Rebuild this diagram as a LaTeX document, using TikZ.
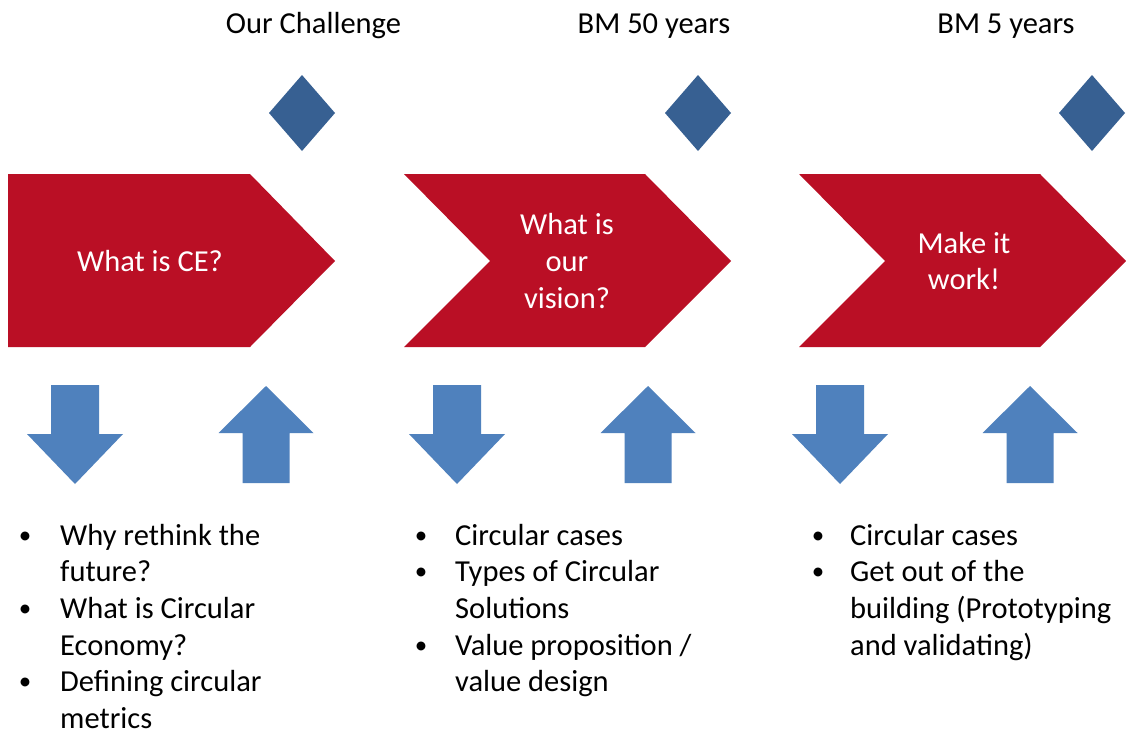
\documentclass[tikz,border=0pt]{standalone}
\usepackage{fontspec}
\setmainfont{Carlito}
\definecolor{cered}{HTML}{BA0F25}
\definecolor{diablue}{HTML}{376092}
\definecolor{arrblue}{HTML}{4F81BD}
\begin{document}
\begin{tikzpicture}[x=1pt,y=-1pt,
  txt/.style={font=\fontsize{30.5}{36.7}\selectfont, inner sep=0pt, align=left},
  wtxt/.style={txt, text=white, align=center},
  ttl/.style={txt, anchor=base},
  item/.style={txt, anchor=base west},
  bul/.style={font=\fontsize{25}{30}\selectfont, inner sep=0pt, anchor=base}]
\useasboundingbox (0,0) rectangle (1126,731);
\fill[white] (0,0) rectangle (1126,731);
% titles
\node[ttl] (t1) at (313.5,33) {Our Challenge};
\node[ttl] (t2) at (654,33) {BM 50 years};
\node[ttl] (t3) at (1006,33) {BM 5 years};
% diamonds
\foreach \cx in {302,698,1092}
  \fill[diablue] (\cx,75) -- (\cx+33,113) -- (\cx,151) -- (\cx-33,113) -- cycle;
% chevrons
\fill[cered] (8,174) -- (250,174) -- (335,261) -- (250,347) -- (8,347) -- cycle;
\fill[cered] (404,174) -- (645,174) -- (731,261) -- (645,347) -- (404,347) -- (490,261) -- cycle;
\fill[cered] (799,174) -- (1040,174) -- (1126,261) -- (1040,347) -- (799,347) -- (885,261) -- cycle;
\node[wtxt] (c1) at (150,261) {What is CE?};
\node[wtxt] (c2) at (567,261) {What is\\our\\vision?};
\node[wtxt] (c3) at (964,261) {Make it\\work!};
% arrows
\foreach \cx in {75,457,840}
  \fill[arrblue] (\cx-24,385) -- (\cx+24,385) -- (\cx+24,434) -- (\cx+48,434) -- (\cx,484) -- (\cx-48,434) -- (\cx-24,434) -- cycle;
\foreach \cx in {266,648,1030}
  \fill[arrblue] (\cx,386) -- (\cx+47.5,433) -- (\cx+23.5,433) -- (\cx+23.5,483) -- (\cx-23.5,483) -- (\cx-23.5,433) -- (\cx-47.5,433) -- cycle;
% bullets column 1 (multi-line nodes are placed by the baseline of their last line)
\node[bul] (b11) at (25,543) {•};
\node[item] (i11) at (60,581.7) {Why rethink the\\future?};
\node[bul] (b12) at (25,616.4) {•};
\node[item] (i12) at (60,655.1) {What is Circular\\Economy?};
\node[bul] (b13) at (25,689.8) {•};
\node[item] (i13) at (60,728.5) {Defining circular\\metrics};
% column 2
\node[bul] (b21) at (421,543) {•};
\node[item] (i21) at (455,545) {Circular cases};
\node[bul] (b22) at (421,579.7) {•};
\node[item] (i22) at (455,618.4) {Types of Circular\\Solutions};
\node[bul] (b23) at (421,653.1) {•};
\node[item] (i23) at (455,691.8) {Value proposition /\\value design};
% column 3
\node[bul] (b31) at (818,543) {•};
\node[item] (i31) at (850,545) {Circular cases};
\node[bul] (b32) at (818,579.7) {•};
\node[item] (i32) at (850,655.1) {Get out of the\\building (Prototyping\\and validating)};
\end{tikzpicture}
\end{document}
